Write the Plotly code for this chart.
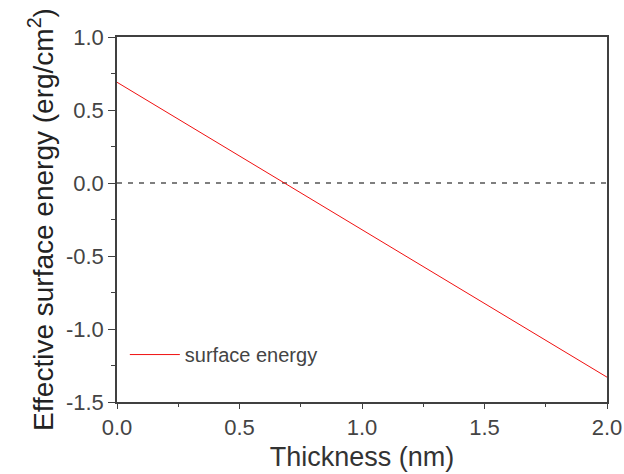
import plotly.graph_objects as go

thickness = [0.0, 2.0]
surface_energy = [0.69, -1.33]
zero_x = [0.0, 2.0]
zero_y = [0.0, 0.0]

x_ticks = [0.0, 0.5, 1.0, 1.5, 2.0]
x_tick_labels = ["0.0", "0.5", "1.0", "1.5", "2.0"]
y_ticks = [-1.5, -1.0, -0.5, 0.0, 0.5, 1.0]
y_tick_labels = ["-1.5", "-1.0", "-0.5", "0.0", "0.5", "1.0"]

FONT = "Liberation Sans, Arial, sans-serif"

fig = go.Figure()
fig.add_trace(go.Scatter(x=zero_x, y=zero_y, mode="lines",
                         line=dict(color="black", width=1.2, dash="5px,6px"),
                         showlegend=False, hoverinfo="skip"))
fig.add_trace(go.Scatter(x=thickness, y=surface_energy, mode="lines",
                         name="surface energy",
                         line=dict(color="#f01010", width=1)))

axis_common = dict(showline=True, linecolor="#404040", linewidth=1.5, mirror=True,
                   showgrid=False, zeroline=False, ticks="outside",
                   tickcolor="#404040", tickwidth=1,
                   tickfont=dict(family=FONT, size=22, color="#444"))

fig.update_xaxes(range=[0, 2.0], tickvals=x_ticks, ticktext=x_tick_labels, ticklen=5,
                 minor=dict(ticks="outside", dtick=0.25, ticklen=3, tickcolor="#404040"),
                 title=dict(text="Thickness (nm)", standoff=8,
                            font=dict(family=FONT, size=27, color="#333")),
                 **axis_common)
fig.update_yaxes(range=[-1.5, 1.0], tickvals=y_ticks, ticktext=y_tick_labels, ticklen=7,
                 minor=dict(ticks="outside", dtick=0.25, ticklen=4, tickcolor="#404040"),
                 title=dict(text="Effective surface energy (erg/cm<sup>2</sup>)", standoff=4,
                            font=dict(family=FONT, size=28, color="#222")),
                 **axis_common)

fig.update_layout(
    width=624, height=474,
    margin=dict(l=117, r=17, t=37, b=72, autoexpand=False),
    paper_bgcolor="white", plot_bgcolor="white",
    showlegend=True,
    legend=dict(x=0.016, y=0.13, xanchor="left", yanchor="middle",
                bgcolor="rgba(0,0,0,0)", itemwidth=50,
                font=dict(family=FONT, size=20, color="#444")),
)

fig.write_html(
    "out.html",
    config={"displayModeBar": False},
    post_script="document.documentElement.style.margin='0';document.body.style.margin='0';"
                "document.documentElement.style.overflow='hidden';document.body.style.overflow='hidden';",
)
